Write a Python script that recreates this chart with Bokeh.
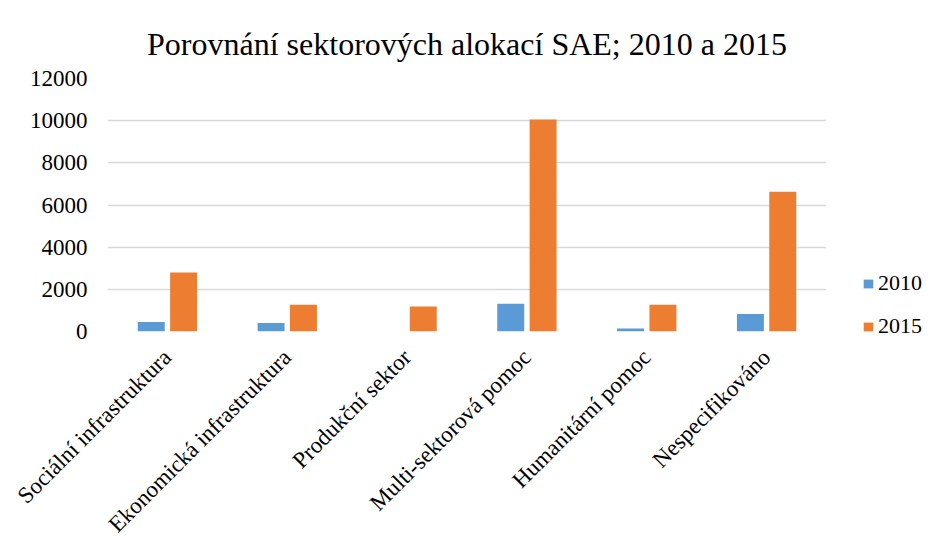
import math
from bokeh.plotting import figure
from bokeh.models import ColumnDataSource, FactorRange, Legend, LegendItem
from bokeh.transform import dodge
from bokeh.embed import file_html
from bokeh.resources import INLINE

categories = ["Sociální infrastruktura", "Ekonomická infrastruktura", "Produkční sektor",
              "Multi-sektorová pomoc", "Humanitární pomoc", "Nespecifikováno"]
values_2010 = [450, 400, 0, 1320, 145, 835]
values_2015 = [2800, 1270, 1190, 10050, 1270, 6630]
series_names = ["2010", "2015"]
colors = ["#5B9BD5", "#ED7D31"]
y_ticks = [0, 2000, 4000, 6000, 8000, 10000, 12000]

src = ColumnDataSource(dict(cat=categories, v2010=values_2010, v2015=values_2015))

FONT = "Liberation Serif"
p = figure(x_range=FactorRange(*categories, range_padding=0), y_range=(0, 12000),
           frame_width=719, frame_height=253, output_backend="svg", toolbar_location=None,
           min_border_left=107, min_border_right=94, min_border_top=78, min_border_bottom=201)

r1 = p.vbar(x=dodge("cat", -0.135, range=p.x_range), top="v2010", width=0.225, source=src,
            fill_color=colors[0], line_color=None)
r2 = p.vbar(x=dodge("cat", 0.135, range=p.x_range), top="v2015", width=0.225, source=src,
            fill_color=colors[1], line_color=None)

p.title.text = "Porovnání sektorových alokací SAE; 2010 a 2015"
p.title.align = "center"
p.title.vertical_align = "top"
p.title.text_font = FONT
p.title.text_font_size = "32px"
p.title.text_font_style = "normal"
p.title.text_color = "#000000"
p.title.offset = 0
p.title.standoff = 30

p.xaxis.major_label_orientation = math.pi / 4
p.xaxis.major_label_text_font = FONT
p.xaxis.major_label_text_font_size = "23px"
p.xaxis.major_label_text_color = "#000000"
p.xaxis.axis_line_color = None
p.xaxis.major_tick_line_color = None
p.xaxis.minor_tick_line_color = None
p.xaxis.major_tick_out = 0
p.xaxis.major_tick_in = 0
p.xaxis.major_label_standoff = 22

p.yaxis.ticker = y_ticks
p.yaxis.major_label_text_font = FONT
p.yaxis.major_label_text_font_size = "23px"
p.yaxis.major_label_text_color = "#000000"
p.yaxis.axis_line_color = None
p.yaxis.major_tick_line_color = None
p.yaxis.minor_tick_line_color = None
p.yaxis.major_tick_out = 0
p.yaxis.major_tick_in = 0
p.yaxis.major_label_standoff = 20

p.xgrid.grid_line_color = None
p.ygrid.grid_line_color = "#D9D9D9"
p.ygrid.grid_line_width = 1.5
p.outline_line_color = None

legend = Legend(items=[LegendItem(label=series_names[0], renderers=[r1]),
                       LegendItem(label=series_names[1], renderers=[r2])],
                label_text_font=FONT, label_text_font_size="22px", label_text_color="#000000",
                glyph_width=12, glyph_height=11, spacing=17, border_line_color=None,
                background_fill_alpha=0, padding=0, margin=0, label_standoff=4,
                location=(36, -8))
p.add_layout(legend, "right")

open("out.html", "w").write(file_html(p, INLINE))
